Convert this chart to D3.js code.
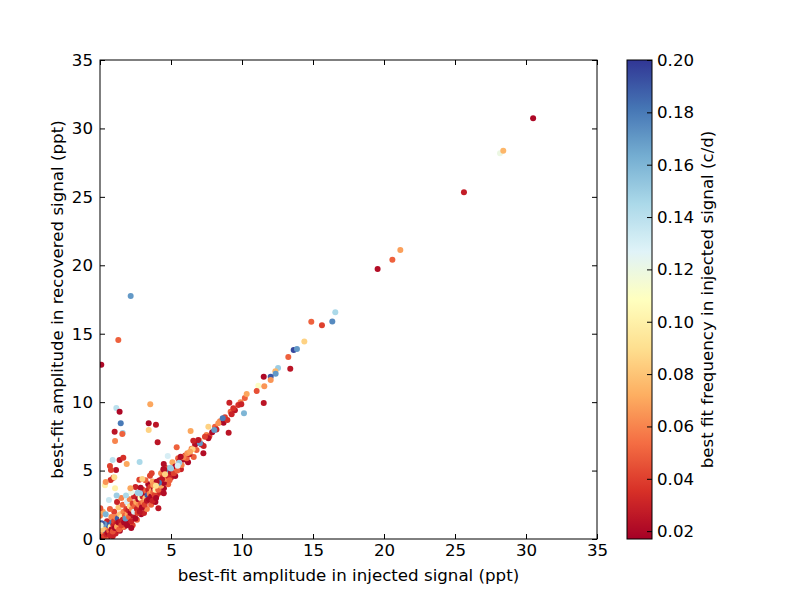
<!DOCTYPE html>
<html>
<head>
<meta charset="utf-8">
<script src="https://cdn.jsdelivr.net/npm/d3@7"></script>
<style>
  body { margin: 0; background: #fff; }
  text { font-family: "DejaVu Sans", sans-serif; }
</style>
</head>
<body>
<div id="chart"></div>
<script>

// injected amplitude (ppt), recovered amplitude (ppt), best fit frequency (c/d)
var injAmp = [
  0.3, 0.5, 0.6, 0.8, 0.9, 1.0, 1.1, 1.3, 1.4, 1.6,
  1.7, 1.9, 2.0, 2.1, 2.3, 2.4, 2.6, 2.7, 2.9, 3.0,
  3.1, 3.3, 3.4, 3.6, 3.7, 3.9, 4.0, 4.2, 4.3, 4.5,
  4.6, 4.8, 5.0, 5.1, 5.3, 5.5, 5.7, 0.0, 0.0, 0.02,
  0.2, 0.4, 0.7, 2.2, 1.2, 1.5, 3.2, 2.5, 6.2, 6.6,
  7.3, 0.4, 0.9, 1.6, 2.2,
  0.05, 0.1, 0.2, 0.25, 0.3, 0.4, 0.45, 0.5, 0.55, 0.6,
  0.65, 0.7, 0.75, 0.8, 0.85, 0.9, 0.95, 0.15, 0.3, 0.12,
  0.05, 1.0, 1.05, 1.1, 1.15, 1.2, 1.25, 1.3, 1.35, 1.4,
  1.45, 1.5, 1.55, 1.6, 1.65, 1.7, 1.75, 1.8, 1.85, 1.9,
  1.95, 2.0, 2.05, 2.1, 2.15, 2.2, 2.25, 2.3, 2.35, 2.4,
  2.45, 2.5, 2.55, 2.6, 2.65, 2.7, 2.75, 2.8, 2.85, 2.9,
  2.95, 3.0, 3.05, 3.1, 3.15, 3.2, 3.25, 3.3, 3.35, 3.4,
  3.45, 3.5, 3.55, 3.6, 3.65, 3.7, 3.75, 3.8, 3.85, 3.9,
  3.95, 4.0, 4.1, 4.2, 4.3, 4.4, 4.5, 4.6, 4.7, 4.8,
  4.9, 5.0, 5.1, 5.2, 5.3, 5.45, 5.6, 5.75, 5.9, 6.0,
  6.1, 6.3, 6.45, 6.7, 6.8, 7.0, 7.15, 7.5, 7.7, 7.9,
  8.1, 8.2, 8.45, 8.7, 8.8, 9.2, 9.5, 9.9, 10.2, 30.5,
  28.17, 28.4, 25.63, 21.15, 20.59, 19.55, 16.57, 14.88, 15.63, 16.36,
  14.39, 13.64, 13.87, 13.26, 13.4, 12.54, 12.35, 12.37, 12.02, 12.02,
  11.53, 11.15, 11.57, 11.03, 11.53, 0.09, 1.29, 2.16, 10.33, 10.14,
  9.74, 9.95, 9.11, 9.39, 9.27, 8.97, 8.64, 8.33, 8.05, 7.63,
  9.06, 7.28, 7.63, 7.39, 7.04, 6.92, 6.57, 6.52, 6.15, 5.87,
  5.58, 5.68, 6.34, 5.4, 6.38, 4.77, 4.06, 3.43, 3.43, 3.94,
  3.54, 1.15, 1.38, 1.46, 1.6, 1.57, 1.03, 1.06, 2.79, 1.38,
  1.64, 1.88, 0.89, 0.7, 1.13, 0.77, 0.94, 0.75, 1.01, 0.35,
  0.4, 1.06, 0.63, 1.17, 1.83, 2.14, 2.77, 2.98, 3.52, 2.86,
  2.82, 4.11, 4.49, 4.49, 4.46, 4.37, 4.15, 5.0, 5.47, 0.02,
  4.53, 4.93, 3.64, 3.99, 3.75, 4.58, 3.94, 2.65
];

var recAmp = [
  0.9, 1.3, 0.2, 1.6, 1.1, 2.0, 0.4, 2.3, 0.6, 2.5,
  0.9, 2.7, 1.2, 2.9, 1.0, 3.1, 1.4, 3.3, 1.8, 3.6,
  1.9, 2.2, 4.0, 2.5, 4.2, 2.7, 3.2, 3.4, 4.8, 3.7,
  5.2, 4.0, 4.5, 5.6, 4.6, 5.9, 5.1, 0.5, 1.7, 0.9,
  2.0, 1.8, 2.2, 3.4, 2.7, 3.0, 4.3, 3.8, 5.6, 6.0,
  6.8, 0.05, 0.2, 0.9, 0.8,
  0.1, 0.3, 0.15, 0.5, 0.2, 0.6, 0.35, 0.8, 0.45, 1.0,
  0.6, 0.3, 0.9, 0.7, 1.2, 0.55, 1.0, 0.7, 1.1, 1.15,
  1.0, 1.3, 0.8, 1.6, 1.1, 0.9, 1.5, 1.2, 0.7, 1.8,
  1.3, 1.0, 1.6, 1.4, 2.0, 1.2, 1.7, 1.5, 2.2, 1.0,
  1.8, 2.1, 1.6, 2.4, 1.9, 1.3, 2.2, 2.6, 1.7, 2.0,
  2.4, 1.5, 2.7, 2.2, 1.9, 2.9, 2.5, 2.0, 3.0, 2.6,
  2.3, 3.1, 2.7, 3.3, 2.5, 3.0, 3.5, 2.8, 3.2, 3.6,
  2.9, 3.3, 3.8, 3.1, 3.5, 2.8, 3.4, 3.7, 3.2, 3.6,
  3.0, 4.0, 3.6, 4.3, 3.9, 4.5, 4.1, 4.4, 4.9, 4.6,
  4.3, 4.9, 5.2, 4.8, 5.3, 5.0, 5.7, 5.4, 5.8, 6.1,
  5.9, 6.2, 6.6, 6.9, 6.5, 7.2, 6.9, 7.6, 7.5, 7.8,
  8.2, 8.0, 8.6, 8.5, 8.9, 9.3, 9.4, 10.0, 10.3, 30.75,
  28.18, 28.37, 25.33, 21.12, 20.41, 19.73, 16.56, 15.88, 15.61, 15.9,
  14.44, 13.81, 13.88, 13.3, 12.44, 12.49, 12.25, 12.08, 11.86, 11.62,
  11.86, 11.2, 11.16, 10.81, 9.94, 12.74, 14.54, 17.76, 10.6, 9.18,
  9.79, 9.85, 9.96, 9.55, 9.11, 8.69, 8.82, 8.45, 7.96, 8.2,
  7.77, 6.26, 7.36, 7.47, 6.99, 7.23, 7.18, 6.55, 6.26, 5.97,
  5.58, 6.01, 6.38, 6.7, 7.89, 6.06, 7.07, 7.96, 8.45, 8.35,
  9.84, 9.57, 9.3, 8.45, 7.75, 7.67, 7.84, 7.16, 5.63, 5.77,
  5.94, 5.48, 5.77, 5.33, 5.04, 5.04, 4.48, 4.31, 4.51, 3.92,
  4.16, 3.7, 2.85, 3.17, 3.17, 3.7, 4.33, 4.38, 4.63, 3.75,
  3.34, 2.24, 3.34, 5.48, 5.09, 4.36, 4.11, 5.16, 5.36, 2.25,
  5.04, 5.21, 4.8, 4.19, 3.95, 4.73, 3.9, 3.38
];

var freq = [
  0.05, 0.03, 0.02, 0.06, 0.19, 0.04, 0.03, 0.08, 0.02, 0.05,
  0.03, 0.13, 0.02, 0.06, 0.04, 0.03, 0.05, 0.09, 0.02, 0.04,
  0.03, 0.06, 0.02, 0.05, 0.07, 0.02, 0.04, 0.03, 0.06, 0.02,
  0.04, 0.05, 0.03, 0.07, 0.02, 0.05, 0.03, 0.04, 0.06, 0.02,
  0.07, 0.16, 0.05, 0.12, 0.03, 0.06, 0.05, 0.03, 0.02, 0.05,
  0.03, 0.05, 0.03, 0.06, 0.02,
  0.03, 0.05, 0.02, 0.06, 0.04, 0.18, 0.03, 0.07, 0.02, 0.19,
  0.05, 0.03, 0.1, 0.02, 0.18, 0.045, 0.03, 0.08, 0.17, 0.19,
  0.12, 0.04, 0.02, 0.06, 0.03, 0.07, 0.19, 0.02, 0.05, 0.08,
  0.025, 0.04, 0.1, 0.03, 0.06, 0.02, 0.05, 0.17, 0.04, 0.02,
  0.07, 0.03, 0.05, 0.09, 0.02, 0.03, 0.06, 0.04, 0.025, 0.13,
  0.05, 0.02, 0.07, 0.03, 0.04, 0.02, 0.06, 0.025, 0.11, 0.045,
  0.02, 0.03, 0.06, 0.02, 0.04, 0.08, 0.05, 0.025, 0.19, 0.03,
  0.02, 0.06, 0.04, 0.02, 0.07, 0.03, 0.05, 0.022, 0.04, 0.1,
  0.02, 0.03, 0.05, 0.022, 0.07, 0.04, 0.02, 0.06, 0.17, 0.03,
  0.05, 0.022, 0.07, 0.04, 0.02, 0.05, 0.03, 0.06, 0.02, 0.04,
  0.05, 0.03, 0.06, 0.022, 0.05, 0.07, 0.03, 0.06, 0.04, 0.02,
  0.05, 0.03, 0.06, 0.02, 0.04, 0.05, 0.025, 0.06, 0.05, 0.02,
  0.12, 0.075, 0.028, 0.068, 0.05, 0.022, 0.145, 0.05, 0.04, 0.175,
  0.085, 0.195, 0.17, 0.05, 0.025, 0.15, 0.075, 0.17, 0.19, 0.065,
  0.02, 0.11, 0.065, 0.045, 0.025, 0.02, 0.05, 0.17, 0.07, 0.16,
  0.035, 0.03, 0.03, 0.035, 0.03, 0.035, 0.18, 0.065, 0.17, 0.085,
  0.025, 0.022, 0.022, 0.04, 0.17, 0.025, 0.03, 0.085, 0.065, 0.06,
  0.15, 0.022, 0.07, 0.05, 0.07, 0.13, 0.025, 0.085, 0.02, 0.025,
  0.07, 0.14, 0.02, 0.18, 0.15, 0.05, 0.025, 0.06, 0.145, 0.025,
  0.035, 0.07, 0.14, 0.04, 0.022, 0.04, 0.04, 0.035, 0.09, 0.1,
  0.065, 0.1, 0.135, 0.15, 0.145, 0.07, 0.04, 0.085, 0.04, 0.022,
  0.15, 0.025, 0.022, 0.022, 0.022, 0.025, 0.18, 0.15, 0.13, 0.045,
  0.022, 0.15, 0.04, 0.022, 0.065, 0.085, 0.09, 0.15
];

var axisTicks = [0, 5, 10, 15, 20, 25, 30, 35];
var cbarTicks = [0.02, 0.04, 0.06, 0.08, 0.10, 0.12, 0.14, 0.16, 0.18, 0.20];
var freqMin = 0.017, freqMax = 0.2;

// matplotlib RdYlBu control colours
var rdylbu = ["#a50026", "#d73027", "#f46d43", "#fdae61", "#fee090", "#ffffbf",
              "#e0f3f8", "#abd9e9", "#74add1", "#4575b4", "#313695"];

var width = 800, height = 600;
var plotL = 100, plotR = 597, plotT = 60, plotB = 539;
var cbL = 627, cbR = 652;
var fontSize = "16.67px";

var svg = d3.select("#chart").append("svg")
  .attr("width", width)
  .attr("height", height);

var x = d3.scaleLinear().domain([0, 35]).range([plotL, plotR]);
var y = d3.scaleLinear().domain([0, 35]).range([plotB, plotT]);
var cy = d3.scaleLinear().domain([freqMin, freqMax]).range([plotB, plotT]);

var color = d3.scaleLinear()
  .domain(d3.range(rdylbu.length).map(function(i) {
    return freqMin + (freqMax - freqMin) * i / (rdylbu.length - 1);
  }))
  .range(rdylbu)
  .interpolate(d3.interpolateRgb)
  .clamp(true);

var pts = injAmp.map(function(d, i) {
  return { x: d, y: recAmp[i], f: freq[i] };
});

// points, clipped to the axes box
svg.append("clipPath").attr("id", "clip")
  .append("rect")
  .attr("x", plotL).attr("y", plotT)
  .attr("width", plotR - plotL).attr("height", plotB - plotT);

svg.append("g")
  .attr("clip-path", "url(#clip)")
  .selectAll("circle")
  .data(pts)
.enter().append("circle")
  .attr("cx", function(d) { return x(d.x); })
  .attr("cy", function(d) { return y(d.y); })
  .attr("r", 3)
  .style("fill", function(d) { return color(d.f); });

// axes, ticks pointing in on every side
function styleAxis(g) {
  g.select(".domain").remove();
  g.selectAll("line").attr("stroke", "#000");
  g.selectAll("text")
    .attr("fill", "#000")
    .style("font-size", fontSize);
}

svg.append("g")
  .attr("transform", "translate(0," + plotB + ")")
  .call(d3.axisBottom(x).tickValues(axisTicks).tickSize(-5).tickPadding(5))
  .call(styleAxis);

svg.append("g")
  .attr("transform", "translate(0," + plotT + ")")
  .call(d3.axisTop(x).tickValues(axisTicks).tickSize(-5).tickFormat(""))
  .call(styleAxis);

svg.append("g")
  .attr("transform", "translate(" + plotL + ",0)")
  .call(d3.axisLeft(y).tickValues(axisTicks).tickSize(-5).tickPadding(7))
  .call(styleAxis);

svg.append("g")
  .attr("transform", "translate(" + plotR + ",0)")
  .call(d3.axisRight(y).tickValues(axisTicks).tickSize(-5).tickFormat(""))
  .call(styleAxis);

svg.append("rect")
  .attr("x", plotL).attr("y", plotT)
  .attr("width", plotR - plotL).attr("height", plotB - plotT)
  .style("fill", "none")
  .style("stroke", "#000")
  .style("stroke-width", 1);

svg.append("text")
  .text("best-fit amplitude in injected signal (ppt)")
  .attr("x", (plotL + plotR) / 2)
  .attr("y", 581)
  .style("text-anchor", "middle")
  .style("font-size", fontSize);

svg.append("text")
  .text("best-fit amplitude in recovered signal (ppt)")
  .attr("transform", "translate(63," + (plotT + plotB) / 2 + ") rotate(-90)")
  .style("text-anchor", "middle")
  .style("font-size", fontSize);

// colorbar
var grad = svg.append("defs").append("linearGradient")
  .attr("id", "cbar")
  .attr("x1", 0).attr("y1", 1)
  .attr("x2", 0).attr("y2", 0);

grad.selectAll("stop")
  .data(d3.range(0, 1.0001, 0.02))
.enter().append("stop")
  .attr("offset", function(d) { return d; })
  .attr("stop-color", function(d) { return color(freqMin + d * (freqMax - freqMin)); });

svg.append("rect")
  .attr("x", cbL).attr("y", plotT)
  .attr("width", cbR - cbL).attr("height", plotB - plotT)
  .style("fill", "url(#cbar)")
  .style("stroke", "#000")
  .style("stroke-width", 1);

svg.append("g")
  .attr("transform", "translate(" + cbR + ",0)")
  .call(d3.axisRight(cy).tickValues(cbarTicks).tickSize(-5).tickPadding(5)
    .tickFormat(d3.format(".2f")))
  .call(styleAxis);

svg.append("text")
  .text("best fit frequency in injected signal (c/d)")
  .attr("transform", "translate(713," + (plotT + plotB) / 2 + ") rotate(-90)")
  .style("text-anchor", "middle")
  .style("font-size", fontSize);

</script>
</body>
</html>
